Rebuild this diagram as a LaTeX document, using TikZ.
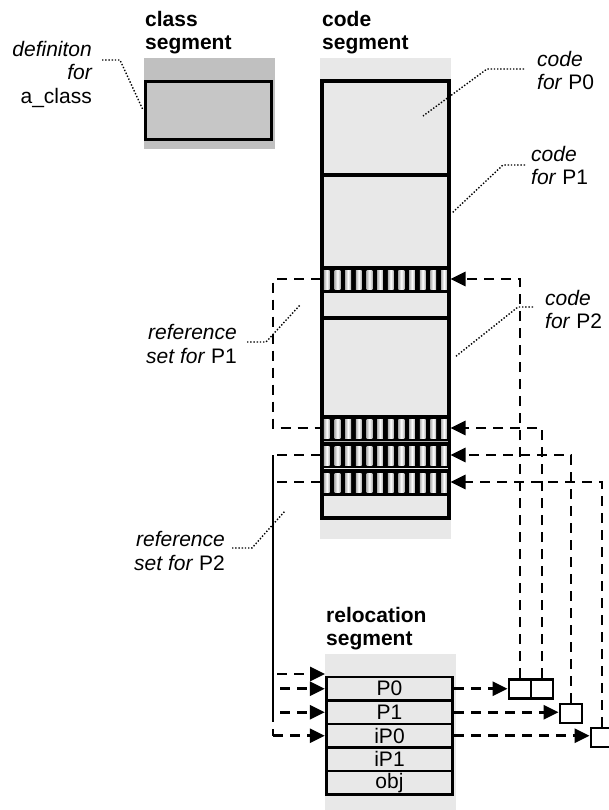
\documentclass[tikz,border=0pt]{standalone}
\usepackage{fontspec}
\setmainfont{Liberation Sans}
\usetikzlibrary{arrows.meta,calc}
\definecolor{classbg}{RGB}{192,192,192}
\definecolor{classin}{RGB}{198,198,198}
\definecolor{light}{RGB}{232,232,232}
\begin{document}
\begin{tikzpicture}[x=1pt,y=-1pt,
  lbl/.style={inner sep=0pt, font=\fontsize{21}{24}\selectfont},
  bold/.style={inner sep=0pt, font=\fontsize{21}{24}\selectfont\bfseries},
  leader/.style={line width=1.4pt, dash pattern=on 1.4pt off 1.8pt},
  dline/.style={line width=2.8pt, dash pattern=on 10pt off 7pt},
  tip/.style={-{Triangle[length=15pt,width=14pt]}},
  seg/.style={draw, line width=3.6pt, fill=light, inner sep=0pt, minimum width=127pt},
  band/.style={draw, line width=3pt, fill=black, inner sep=0pt, minimum width=127pt, minimum height=24pt},
  relrow/.style={draw, line width=2.8pt, fill=light, inner sep=0pt, minimum width=126.5pt, minimum height=23.5pt, font=\fontsize{21}{24}\selectfont},
  smallbox/.style={draw, line width=2.8pt, fill=white, inner sep=0pt, minimum width=22pt, minimum height=19pt}
]
\useasboundingbox (0,0) rectangle (609,810);

% ---------- class segment ----------
\node[bold, anchor=base west] (clsA) at (145,27) {class};
\node[bold, anchor=base west] (clsB) at (145,50) {segment};
\fill[classbg] (144,58) rectangle (275,149);
\node[draw, line width=3.6pt, fill=classin, inner sep=0pt, minimum width=126pt, minimum height=58pt] (classdef) at (208.5,110.5) {};
\node[lbl, anchor=base east] (defA) at (92,57) {\itshape definiton};
\node[lbl, anchor=base east] (defB) at (92,80) {\itshape for};
\node[lbl, anchor=base east] (defC) at (92,104) {a\_class};
\coordinate (defT) at (143,110);
\draw[leader] (102,60) -- (120,60) -- (defT);

% ---------- code segment ----------
\node[bold, anchor=base west] (codeA) at (322,27) {code};
\node[bold, anchor=base west] (codeB) at (322,50) {segment};
\fill[light] (320,58) rectangle (451,539);
\node[seg, minimum height=94pt] (sec0) at (385.5,128) {};
\node[seg, minimum height=143pt] (sec1) at (385.5,246.5) {};
\node[seg, minimum height=200pt] (sec2) at (385.5,418) {};
\node[band] (b1) at (385.5,279) {};
\node[band] (b2) at (385.5,428) {};
\node[band] (b3) at (385.5,455) {};
\node[band] (b4) at (385.5,482) {};
\foreach \b in {b1,b2,b3,b4}{
  \foreach \i in {0,...,11}{
    \shade[left color=gray!60, right color=gray!60, middle color=white]
      ($(\b.west)+(3.4+10.65*\i,-9)$) rectangle ++(5.8,19.5);
  }
}
\draw[gray!60, line width=1.2pt] ($(b2.south west)+(3,0)$) -- ($(b2.south east)+(-3,0)$);
\draw[gray!15, line width=1.4pt] ($(b3.south west)+(3,0)$) -- ($(b3.south east)+(-3,0)$);

% labels right of code segment
\node[lbl, anchor=base west] (p0A) at (537,67) {\itshape code};
\node[lbl, anchor=base west] (p0B) at (537,90) {\textit{for} P0};
\node[lbl, anchor=base west] (p1A) at (531,162) {\itshape code};
\node[lbl, anchor=base west] (p1B) at (531,185) {\textit{for} P1};
\node[lbl, anchor=base west] (p2A) at (545,305) {\itshape code};
\node[lbl, anchor=base west] (p2B) at (545,328) {\textit{for} P2};
\coordinate (p0T) at (423,116);
\coordinate (p1T) at (452,213);
\coordinate (p2T) at (455,357);
\draw[leader] (524,69) -- (487,69) -- (p0T);
\draw[leader] (525,165) -- (503,165) -- (p1T);
\draw[leader] (533,307) -- (518,307) -- (p2T);

% labels left
\node[lbl, anchor=base east] (r1A) at (237,339) {\itshape reference};
\node[lbl, anchor=base east] (r1B) at (237,363) {\textit{set for} P1};
\node[lbl, anchor=base east] (r2A) at (225,546) {\itshape reference};
\node[lbl, anchor=base east] (r2B) at (225,570) {\textit{set for} P2};

% ---------- relocation segment ----------
\node[bold, anchor=base west] (relA) at (326,622) {relocation};
\node[bold, anchor=base west] (relB) at (326,645) {segment};
\fill[light] (325,654) rectangle (456,810);
\node[relrow] (P0) at (389.5,688.75) {P0};
\node[relrow] (P1) at (389.5,712.25) {P1};
\node[relrow] (iP0) at (389.5,735.75) {iP0};
\node[relrow] (iP1) at (389.5,759.25) {iP1};
\node[relrow] (obj) at (389.5,782.75) {obj};

% small boxes
\node[smallbox] (A1) at (520,689) {};
\node[smallbox] (A2) at (542,689) {};
\node[smallbox] (B) at (571,713.5) {};
\node[smallbox] (C) at (602,737.5) {};

% right-side connectors
\draw[dline, tip] (A1.north) |- (b1.east);
\draw[dline, tip] (A2.north) |- (b2.east);
\draw[dline, tip] (B.north) |- (b3.east);
\draw[dline, tip] (C.north) |- (b4.east);
\draw[dline, tip] (P0.east) -- (P0.east -| A1.west);
\draw[dline, tip] (P1.east) -- (P1.east -| B.west);
\draw[dline, tip] (iP0.east) -- (iP0.east -| C.west);

% left-side bus
\coordinate (t1) at (273,279);
\coordinate (t2) at (273,428);
\coordinate (t3) at (273,455);
\coordinate (t4) at (273,482);
\coordinate (u0) at (273,674);
\coordinate (u1) at (273,688.75);
\coordinate (u2) at (273,712.25);
\coordinate (u3) at (273,735.75);
\coordinate (in0) at (325,674);
\draw[dline] (b1.west) -- (t1) -- (t2) -- (b2.west);
\draw[dline] (b3.west) -- (t3);
\draw[dline] (b4.west) -- (t4);
\draw[line width=2.8pt] (t3) -- (u2);
\draw[dline] (u2) -- (u3);
\draw[dline, tip] (u3) -- (iP0.west);
\draw[dline, tip, dash phase=13pt] (u0) -- (in0);
\draw[dline, tip, dash phase=10pt] (u1) -- (P0.west);
\draw[dline, tip, dash phase=10pt] (u2) -- (P1.west);

\coordinate (r1T) at (300,305);
\coordinate (r2T) at (285,511);
\draw[leader] (247,342) -- (266,342) -- (r1T);
\draw[leader] (232,548) -- (252,548) -- (r2T);
\end{tikzpicture}
\end{document}
